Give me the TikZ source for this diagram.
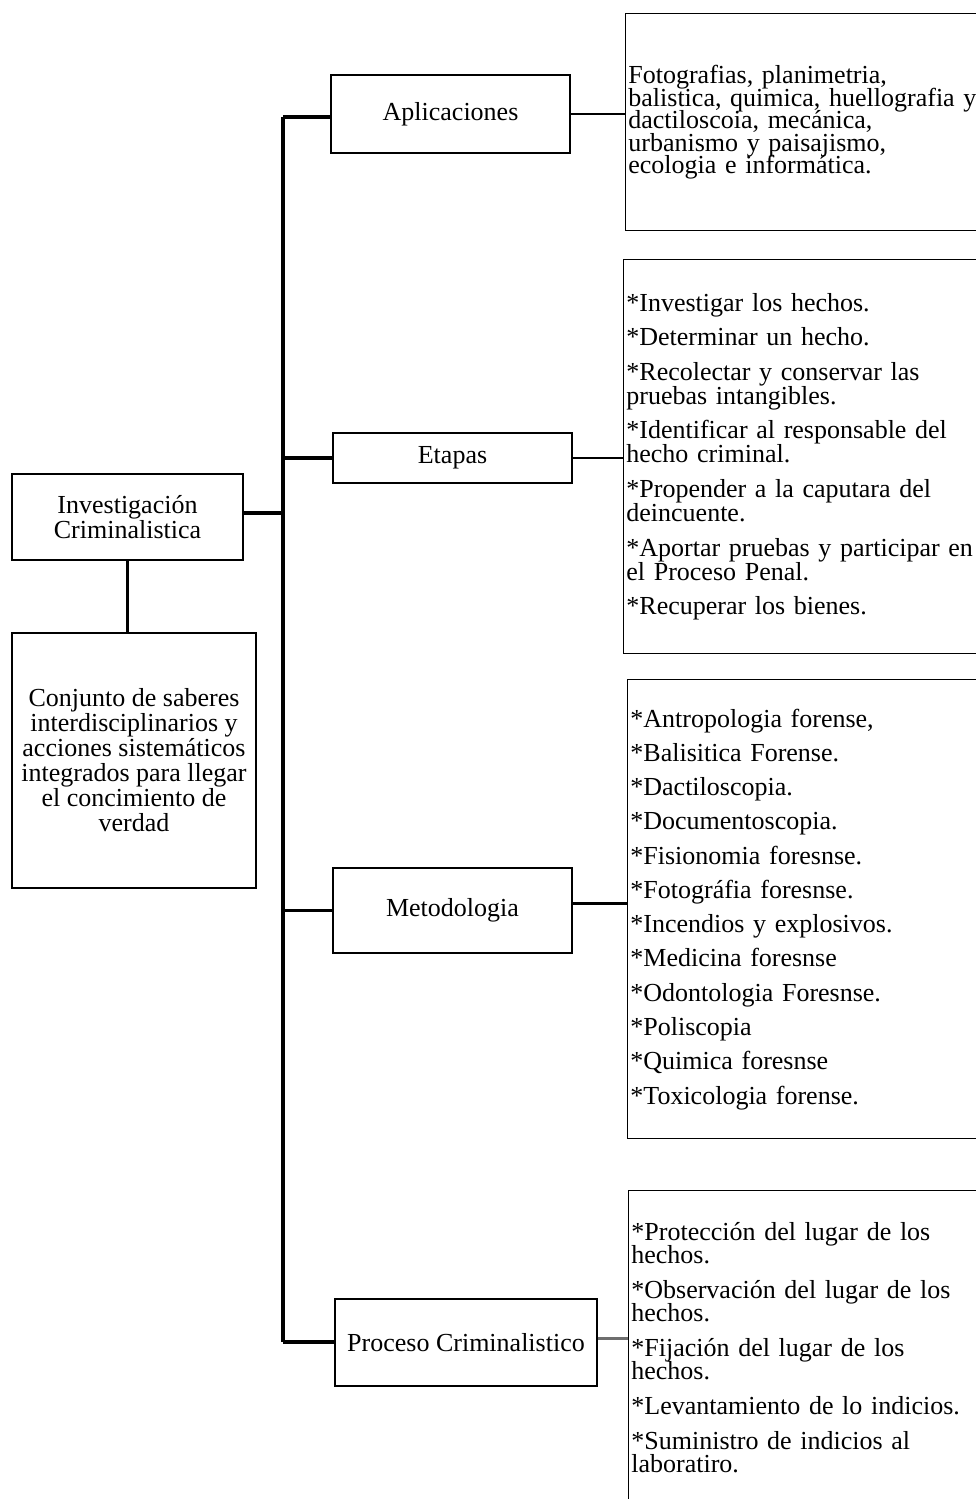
\documentclass[tikz,border=0pt]{standalone}
\usepackage{fontspec}
\setmainfont{Liberation Serif}
\usetikzlibrary{positioning}

\newcommand\setfs[1]{\fontsize{19.5pt}{#1}\selectfont\lineskiplimit=-\maxdimen}

\tikzset{every picture/.style={line width=0.75pt}}
\tikzset{
  box/.style={draw, line width=1.1pt, inner sep=0pt, align=center},
  listbox/.style={draw, line width=1.1pt, anchor=north west, text width=285pt,
    inner xsep=2pt, inner ysep=0pt, align=left},
  trunkline/.style={line width=2.3pt},
  sideline/.style={line width=1.6pt},
}

\begin{document}
\begin{tikzpicture}[x=0.75pt,y=0.75pt,yscale=-1,xscale=1]
\useasboundingbox (0,0) rectangle (975,1499);

%Left column
\node [box, minimum width=173.25pt, minimum height=64.5pt, font=\setfs{18.4pt}] (inv) at (127.5,517) {Investigación\\Criminalistica};
\node [box, minimum width=183pt, minimum height=191.25pt, font=\setfs{18.75pt}] (def) at (134,760.5) {Conjunto de saberes\\interdisciplinarios y\\acciones sistemáticos\\integrados para llegar\\el concimiento de\\verdad};

%Middle column
\node [box, minimum width=179.25pt, minimum height=58.5pt, font=\setfs{18pt}] (apl) at (450.5,114) {Aplicaciones};
\node [box, minimum width=179.25pt, minimum height=37.5pt, font=\setfs{18pt}] (eta) at (452.5,458) {Etapas};
\node [box, minimum width=179.25pt, minimum height=63.75pt, font=\setfs{18pt}] (met) at (452.5,910.5) {Metodologia};
\node [box, minimum width=196.5pt, minimum height=65.25pt, font=\setfs{18pt}] (pro) at (466,1342.5) {Proceso Criminalistico};

%Right column
\node [listbox, minimum height=162.75pt, font=\setfs{16.9pt}] (aplL) at (625,13) {Fotografias, planimetria,\\
balistica, quimica, huellografia y\\
dactiloscoia, mecánica,\\
urbanismo y paisajismo,\\
ecologia e informática.\\[-5pt]};
\node [listbox, minimum height=295.5pt, font=\setfs{18pt}] (etaL) at (623,259) {*Investigar los hechos.\\[7.9pt]
*Determinar un hecho.\\[7.9pt]
*Recolectar y conservar las\\pruebas intangibles.\\[7.9pt]
*Identificar al responsable del\\hecho criminal.\\[7.9pt]
*Propender a la caputara del\\deincuente.\\[7.9pt]
*Aportar pruebas y participar en\\el Proceso Penal.\\[7.9pt]
*Recuperar los bienes.};
\node [listbox, minimum height=344.25pt, font=\setfs{25.7pt}] (metL) at (627,679) {*Antropologia forense,\\
{*}Balisitica Forense.\\
{*}Dactiloscopia.\\
{*}Documentoscopia.\\
{*}Fisionomia foresnse.\\
{*}Fotográfia foresnse.\\
{*}Incendios y explosivos.\\
{*}Medicina foresnse\\
{*}Odontologia Foresnse.\\
{*}Poliscopia\\
{*}Quimica foresnse\\
{*}Toxicologia forense.};
\node [listbox, minimum height=235.5pt, font=\setfs{17.25pt}] (proL) at (628,1190) {*Protección del lugar de los\\hechos.\\[9pt]
*Observación del lugar de los\\hechos.\\[9pt]
*Fijación del lugar de los\\hechos.\\[9pt]
*Levantamiento de lo indicios.\\[9pt]
*Suministro de indicios al\\laboratiro.};

%Trunk
\coordinate (tt) at (283,117);
\coordinate (tb) at (283,1342);
\draw [trunkline] (tt) -- (tb);
\draw [trunkline] (tt) -- (tt -| apl.west);
\draw [trunkline] (eta.west -| tt) -- (eta.west);
\draw [trunkline] (met.west -| tt) -- (met.west);
\draw [trunkline] (tb) -- (tb -| pro.west);
\draw [trunkline] ([yshift=-3pt]inv.east) -- ([yshift=-3pt]inv.east -| tt);
\draw [trunkline] (inv.south) -- (inv.south |- def.north);

%Side links
\draw [sideline] (apl.east) -- (apl.east -| aplL.west);
\draw [sideline] (eta.east) -- (eta.east -| etaL.west);
\draw [sideline] ([yshift=-5.25pt]met.east) -- ([yshift=-5.25pt]met.east -| metL.west);
\draw [sideline, color={rgb, 255:red, 110; green, 110; blue, 110}] ([yshift=-3pt]pro.east) -- ([yshift=-3pt]pro.east -| proL.west);

\end{tikzpicture}
\end{document}
